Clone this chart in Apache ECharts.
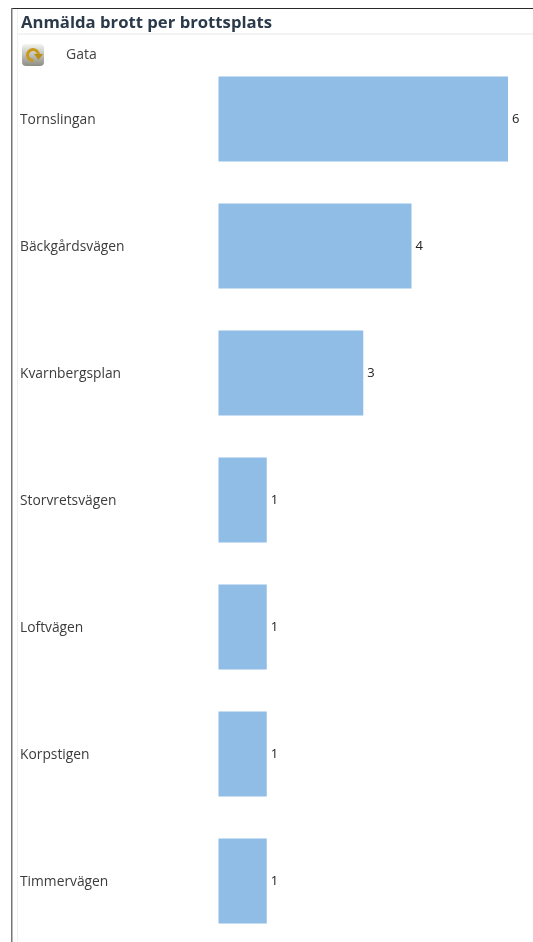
<!DOCTYPE html>
<html>
<head>
<meta charset="utf-8">
<style>html,body{margin:0;padding:0;background:#fff;overflow:hidden}#c{width:533px;height:942px}</style>
<script src="https://cdn.jsdelivr.net/npm/echarts@6/dist/echarts.min.js"></script>
</head>
<body>
<div id="c"></div>
<script>
const categories = ['Tornslingan','Bäckgårdsvägen','Kvarnbergsplan','Storvretsvägen','Loftvägen','Korpstigen','Timmervägen'];
const values = [6,4,3,1,1,1,1];
const titleText = 'Anmälda brott per brottsplats';
const filterText = 'Gata';
const FONT = '"Open Sans", sans-serif';

const chart = echarts.init(document.getElementById('c'), null, {renderer:'canvas'});
chart.setOption({
  animation:false,
  backgroundColor:'#ffffff',
  grid:{left:218.5, top:55.5, width:289.5, height:889, containLabel:false, outerBoundsMode:'none'},
  xAxis:{type:'value', min:0, max:6, show:false},
  yAxis:{type:'category', inverse:true, data:categories,
    axisLine:{show:false}, axisTick:{show:false}, splitLine:{show:false},
    axisLabel:{align:'left', verticalAlign:'top', lineHeight:3, margin:198.5, color:'#3c3c3c', fontFamily:FONT, fontSize:13.8, interval:0}},
  series:[{type:'bar', data:values, barWidth:85,
    itemStyle:{color:'#90bde6'},
    label:{show:true, position:'right', distance:4, color:'#222', fontFamily:FONT, fontSize:13, offset:[0,0]}}],
  graphic:[
    {type:'rect', shape:{x:11,y:8,width:522,height:1}, style:{fill:'#2a2a2a'}, silent:true},
    {type:'rect', shape:{x:11,y:8,width:1.5,height:934}, style:{fill:'#777'}, silent:true},
    {type:'rect', shape:{x:17,y:9,width:1,height:933}, style:{fill:'#f0f0f0'}, silent:true},
    {type:'rect', shape:{x:18,y:33,width:515,height:2}, style:{fill:'#f3f3f3'}, silent:true},
    {type:'text', x:21, y:14.5, style:{text:titleText, fill:'#2b3a4a', font:'bold 16.7px '+FONT}},
    {type:'text', x:66, y:48, style:{text:filterText, fill:'#444', font:'14px '+FONT}},
    {type:'rect', shape:{x:22,y:44,width:22,height:22,r:4},
      style:{fill:{type:'linear',x:0,y:0,x2:0,y2:1,colorStops:[{offset:0,color:'#f4f4f0'},{offset:1,color:'#8d8d84'}]}}},
    {type:'arc', shape:{cx:33,cy:55,r:5.5,startAngle:1.5,endAngle:6.28,clockwise:true},
      style:{stroke:'#c79a1c',lineWidth:3,fill:null}},
    {type:'polygon', shape:{points:[[34,54],[43,54],[38.5,60]]}, style:{fill:'#b98e17'}}
  ]
});
</script>
</body>
</html>
